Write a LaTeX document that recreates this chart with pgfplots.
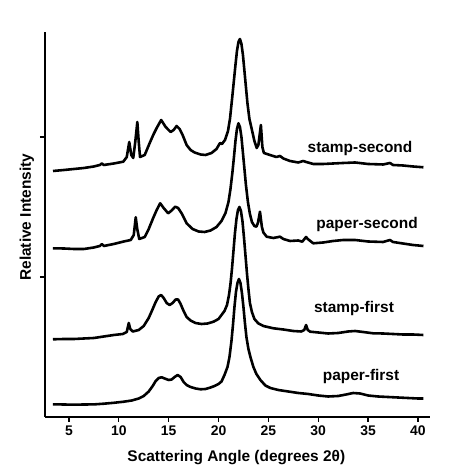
\documentclass[border=0pt]{standalone}
\usepackage{pgfplots}
\pgfplotsset{compat=1.18}
\usepackage{fontspec}
\setmainfont{Liberation Sans}
\begin{document}
\begin{tikzpicture}[x=1bp,y=1bp]
\useasboundingbox (0,0) rectangle (472,474);
\begin{axis}[
  at={(45bp,57bp)}, anchor=south west,
  scale only axis, width=385bp, height=385bp,
  xmin=2.6, xmax=41.21, ymin=0, ymax=385,
  axis x line=bottom, axis y line=left,
  axis line style={-, line width=1.5pt},
  xtick={5,10,...,40}, ytick={140,280}, yticklabels={},
  tick align=outside, major tick length=5bp,
  tick style={line width=1.2pt, black},
  /pgf/number format/assume math mode=true,
  ticklabel style={font=\fontsize{14}{16}\selectfont\bfseries},
  xlabel={Scattering Angle (degrees 2θ)},
  ylabel={Relative Intensity},
  xlabel style={at={(axis description cs:0.497,-0.1065)}, anchor=center, font=\fontsize{15.5}{18}\selectfont\bfseries},
  ylabel style={at={(axis description cs:-0.0468,0.519)}, anchor=center, font=\fontsize{15.5}{18}\selectfont\bfseries},
  cycle list={{black}},
  every axis plot post/.append style={black, line width=2.6pt, line join=round, mark=none},
  clip=false,
]
% paper-first
\addplot coordinates {
(3.4,12.7)(4.5,12.5)(5.5,12.3)(6.5,12.5)(7.5,12.6)(8.5,13.3)(9.5,14.2)(10.5,15.3)(11.3,16.5)(12.0,18.5)(12.5,21)(13.0,25.5)(13.4,31)(13.7,36)(14.0,39)(14.3,39.7)(14.6,38.5)(15.0,37)(15.3,37.5)(15.6,40)(15.9,42)(16.2,40)(16.5,35)(16.8,32)(17.2,30)(17.7,28.5)(18.2,27.7)(18.7,28)(19.2,29.5)(19.6,31)(20.0,33)(20.3,35.5)(20.6,42)(20.9,50)(21.1,60)(21.3,76)(21.45,92)(21.6,110)(21.75,125)(21.9,134)(22.05,138)(22.2,134)(22.35,124)(22.5,110)(22.65,94)(22.8,80)(23.0,68)(23.2,60)(23.5,50)(23.8,43)(24.2,37)(24.7,31.5)(25.2,29)(26,27)(27,25.5)(28,24)(29,23)(30,21.5)(31,20.5)(32,21)(32.8,22.5)(33.5,24)(34.2,23.5)(35,21.5)(36,20.5)(37,20)(38,19.5)(39,19)(40,18.5)(40.55,18.5)
};
% stamp-first
\addplot coordinates {
(3.4,77.7)(4.5,78)(5.5,78)(6.5,78.5)(7.5,79)(8.5,80.5)(9.5,82)(10.4,83)(10.8,85)(11.0,94)(11.15,88)(11.4,85.5)(12.0,87)(12.5,91)(13.0,99)(13.4,108)(13.7,115)(14.0,120.5)(14.25,122)(14.5,119)(14.8,114)(15.1,112)(15.4,114)(15.7,117.5)(15.95,117.5)(16.2,113)(16.5,106)(16.8,100)(17.2,96.5)(17.7,94)(18.3,93)(18.9,93.5)(19.5,95.3)(20.0,98)(20.3,102)(20.6,106)(20.85,112)(21.05,122)(21.2,133)(21.35,148)(21.5,166)(21.65,184)(21.8,198)(21.95,207)(22.1,210)(22.25,206)(22.4,196)(22.55,180)(22.7,162)(22.85,144)(23.0,128)(23.15,114)(23.35,105)(23.6,98)(24.0,93.5)(24.5,91)(25.5,88.7)(26.5,87.5)(27.5,86)(28.3,85.5)(28.6,87)(28.78,92)(28.95,87)(29.2,85.3)(30,84.5)(31,83.5)(32,84)(33,85.5)(33.7,86)(34.5,85)(35.5,83.7)(36.5,83.5)(37.5,83)(38.5,82.5)(39.5,82.5)(40.55,82)
};
% paper-second
\addplot coordinates {
(3.4,168.7)(4.5,168.5)(5.5,168)(6.5,168)(7.5,169.5)(8.1,171)(8.3,173)(8.5,171)(9.5,173)(10.5,175.5)(11.2,177)(11.5,182)(11.7,199.7)(11.85,188)(12.05,178)(12.6,180)(13.0,188)(13.45,199)(13.8,207)(14.15,213.7)(14.5,209)(14.95,203.7)(15.3,206.5)(15.65,210.3)(15.95,209)(16.3,203.7)(16.8,193.7)(17.4,188)(18.0,185.5)(18.6,185)(19.2,186.5)(19.8,190)(20.3,196)(20.7,204)(21.0,215)(21.2,228)(21.4,245)(21.55,260)(21.7,276)(21.85,288)(22.0,293.7)(22.15,290)(22.3,280)(22.45,264)(22.6,248)(22.75,232)(22.95,215)(23.15,203)(23.35,195)(23.6,191)(23.8,190.3)(23.95,194)(24.16,205.3)(24.35,190)(24.5,184.5)(24.83,180.3)(25.5,179)(26.17,180.3)(26.5,178)(27.17,176)(28.0,176.5)(28.4,175.3)(28.78,180)(28.95,178)(29.5,173.7)(30.5,174.5)(31.5,176)(32.5,177)(33.7,177)(35,175.5)(36.5,175)(37.2,177)(37.5,175)(38.5,173.5)(39.5,172)(40.55,171)
};
% stamp-second
\addplot coordinates {
(3.4,246)(4.5,247)(5.5,248)(6.5,249)(7.5,250.5)(8.1,252)(8.3,253.5)(8.5,252)(9.5,253.5)(10.45,255.3)(10.8,260)(11.05,275)(11.25,262)(11.45,259)(11.65,275)(11.86,295)(12.0,275)(12.13,260)(12.6,262)(13.1,274)(13.5,283)(13.8,289)(14.25,297)(14.7,290)(15.2,285)(15.5,287)(15.8,291)(16.1,288)(16.4,282)(16.8,272)(17.2,267)(17.6,264.5)(18.2,262.5)(18.7,262)(19.3,264)(19.8,268)(20.15,274)(20.35,273)(20.65,277)(20.95,286)(21.15,298)(21.4,322)(21.55,337)(21.7,352)(21.85,366)(22.0,375)(22.15,378)(22.3,373)(22.45,362)(22.6,346)(22.75,330)(22.9,314)(23.1,298)(23.33,288)(23.6,276)(23.83,269)(24.0,272)(24.1,280)(24.25,292)(24.4,270)(24.55,264)(25.16,262)(25.8,260)(26.17,261)(26.5,258.5)(27.17,256)(28.0,254.5)(28.5,256)(28.8,255)(29.5,253)(30.5,253)(31.5,253.5)(32.5,254)(33.7,254.5)(35,253)(36.5,252.5)(37.2,254)(37.5,252)(38.5,251.5)(39.5,250.5)(40.55,249.7)
};
\node[font=\fontsize{15.5}{18}\selectfont\bfseries] at (axis cs:34.19,268) {stamp-second};
\node[font=\fontsize{15.5}{18}\selectfont\bfseries] at (axis cs:34.9,192) {paper-second};
\node[font=\fontsize{15.5}{18}\selectfont\bfseries] at (axis cs:33.59,108) {stamp-first};
\node[font=\fontsize{15.5}{18}\selectfont\bfseries] at (axis cs:34.29,40) {paper-first};
\end{axis}
\end{tikzpicture}
\end{document}
